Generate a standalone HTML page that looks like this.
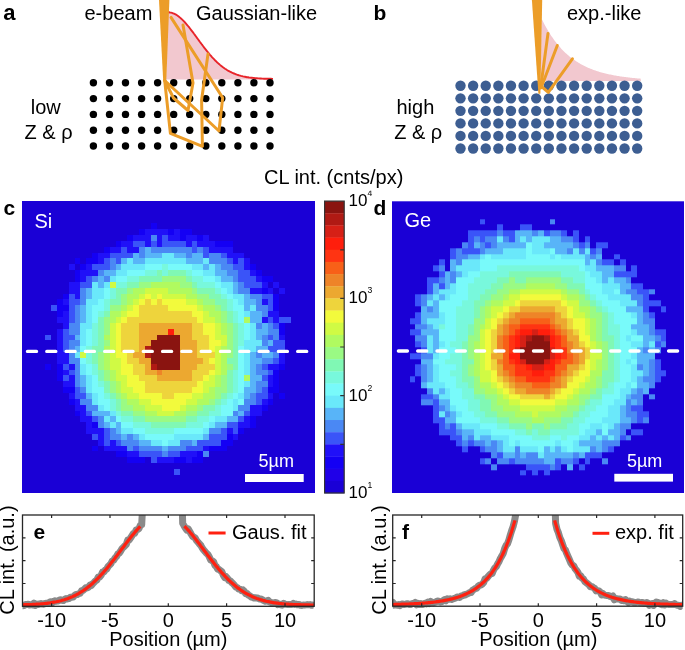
<!DOCTYPE html>
<html><head><meta charset="utf-8"><style>
html,body{margin:0;padding:0;background:#fff;}
svg{display:block;will-change:transform;}
</style></head><body>
<svg width="685" height="650" viewBox="0 0 685 650" font-family="'Liberation Sans', sans-serif" fill="#000">
<text x="3.3" y="20.1" font-size="22" font-weight="bold">a</text>
<text x="84.5" y="20" font-size="20">e-beam</text>
<text x="196" y="20" font-size="20">Gaussian-like</text>
<path d="M166 79.5 L168.0 12.3 L169.0 12.3 L170.0 12.5 L171.0 12.6 L172.0 12.9 L173.0 13.3 L174.0 13.7 L175.0 14.2 L176.0 14.7 L177.0 15.3 L178.0 16.0 L179.0 16.8 L180.0 17.6 L181.0 18.5 L182.0 19.4 L183.0 20.4 L184.0 21.4 L185.0 22.5 L186.0 23.6 L187.0 24.8 L188.0 26.0 L189.0 27.2 L190.0 28.5 L191.0 29.8 L192.0 31.1 L193.0 32.4 L194.0 33.8 L195.0 35.1 L196.0 36.5 L197.0 37.9 L198.0 39.2 L199.0 40.6 L200.0 42.0 L201.0 43.3 L202.0 44.7 L203.0 46.0 L204.0 47.3 L205.0 48.6 L206.0 49.9 L207.0 51.2 L208.0 52.4 L209.0 53.6 L210.0 54.8 L211.0 55.9 L212.0 57.1 L213.0 58.2 L214.0 59.2 L215.0 60.3 L216.0 61.2 L217.0 62.2 L218.0 63.1 L219.0 64.0 L220.0 64.9 L221.0 65.7 L222.0 66.5 L223.0 67.3 L224.0 68.0 L225.0 68.7 L226.0 69.3 L227.0 70.0 L228.0 70.6 L229.0 71.1 L230.0 71.7 L231.0 72.2 L232.0 72.7 L233.0 73.1 L234.0 73.5 L235.0 73.9 L236.0 74.3 L237.0 74.7 L238.0 75.0 L239.0 75.3 L240.0 75.6 L241.0 75.9 L242.0 76.1 L243.0 76.4 L244.0 76.6 L245.0 76.8 L246.0 77.0 L247.0 77.2 L248.0 77.3 L249.0 77.5 L250.0 77.6 L251.0 77.7 L252.0 77.8 L253.0 77.9 L254.0 78.0 L255.0 78.1 L256.0 78.2 L257.0 78.3 L258.0 78.4 L259.0 78.4 L260.0 78.5 L261.0 78.5 L262.0 78.6 L263.0 78.6 L264.0 78.7 L265.0 78.7 L266.0 78.7 L267.0 78.8 L268.0 78.8 L269.0 78.8 L270.0 78.8 L271.0 78.8 L272.0 78.9 L273.0 78.9 L273.5 79.5 Z" fill="#F2C8CF"/>
<path d="M168.0 12.3 L169.0 12.3 L170.0 12.5 L171.0 12.6 L172.0 12.9 L173.0 13.3 L174.0 13.7 L175.0 14.2 L176.0 14.7 L177.0 15.3 L178.0 16.0 L179.0 16.8 L180.0 17.6 L181.0 18.5 L182.0 19.4 L183.0 20.4 L184.0 21.4 L185.0 22.5 L186.0 23.6 L187.0 24.8 L188.0 26.0 L189.0 27.2 L190.0 28.5 L191.0 29.8 L192.0 31.1 L193.0 32.4 L194.0 33.8 L195.0 35.1 L196.0 36.5 L197.0 37.9 L198.0 39.2 L199.0 40.6 L200.0 42.0 L201.0 43.3 L202.0 44.7 L203.0 46.0 L204.0 47.3 L205.0 48.6 L206.0 49.9 L207.0 51.2 L208.0 52.4 L209.0 53.6 L210.0 54.8 L211.0 55.9 L212.0 57.1 L213.0 58.2 L214.0 59.2 L215.0 60.3 L216.0 61.2 L217.0 62.2 L218.0 63.1 L219.0 64.0 L220.0 64.9 L221.0 65.7 L222.0 66.5 L223.0 67.3 L224.0 68.0 L225.0 68.7 L226.0 69.3 L227.0 70.0 L228.0 70.6 L229.0 71.1 L230.0 71.7 L231.0 72.2 L232.0 72.7 L233.0 73.1 L234.0 73.5 L235.0 73.9 L236.0 74.3 L237.0 74.7 L238.0 75.0 L239.0 75.3 L240.0 75.6 L241.0 75.9 L242.0 76.1 L243.0 76.4 L244.0 76.6 L245.0 76.8 L246.0 77.0 L247.0 77.2 L248.0 77.3 L249.0 77.5 L250.0 77.6 L251.0 77.7 L252.0 77.8 L253.0 77.9 L254.0 78.0 L255.0 78.1 L256.0 78.2 L257.0 78.3 L258.0 78.4 L259.0 78.4 L260.0 78.5 L261.0 78.5 L262.0 78.6 L263.0 78.6 L264.0 78.7 L265.0 78.7 L266.0 78.7 L267.0 78.8 L268.0 78.8 L269.0 78.8 L270.0 78.8 L271.0 78.8 L272.0 78.9 L273.0 78.9" fill="none" stroke="#E8242A" stroke-width="1.9"/>
<circle cx="93.4" cy="82.8" r="3.7"/>
<circle cx="109.5" cy="82.8" r="3.7"/>
<circle cx="125.5" cy="82.8" r="3.7"/>
<circle cx="141.6" cy="82.8" r="3.7"/>
<circle cx="157.6" cy="82.8" r="3.7"/>
<circle cx="173.7" cy="82.8" r="3.7"/>
<circle cx="189.7" cy="82.8" r="3.7"/>
<circle cx="205.8" cy="82.8" r="3.7"/>
<circle cx="221.8" cy="82.8" r="3.7"/>
<circle cx="237.9" cy="82.8" r="3.7"/>
<circle cx="253.9" cy="82.8" r="3.7"/>
<circle cx="270.0" cy="82.8" r="3.7"/>
<circle cx="93.4" cy="98.6" r="3.7"/>
<circle cx="109.5" cy="98.6" r="3.7"/>
<circle cx="125.5" cy="98.6" r="3.7"/>
<circle cx="141.6" cy="98.6" r="3.7"/>
<circle cx="157.6" cy="98.6" r="3.7"/>
<circle cx="173.7" cy="98.6" r="3.7"/>
<circle cx="189.7" cy="98.6" r="3.7"/>
<circle cx="205.8" cy="98.6" r="3.7"/>
<circle cx="221.8" cy="98.6" r="3.7"/>
<circle cx="237.9" cy="98.6" r="3.7"/>
<circle cx="253.9" cy="98.6" r="3.7"/>
<circle cx="270.0" cy="98.6" r="3.7"/>
<circle cx="93.4" cy="114.4" r="3.7"/>
<circle cx="109.5" cy="114.4" r="3.7"/>
<circle cx="125.5" cy="114.4" r="3.7"/>
<circle cx="141.6" cy="114.4" r="3.7"/>
<circle cx="157.6" cy="114.4" r="3.7"/>
<circle cx="173.7" cy="114.4" r="3.7"/>
<circle cx="189.7" cy="114.4" r="3.7"/>
<circle cx="205.8" cy="114.4" r="3.7"/>
<circle cx="221.8" cy="114.4" r="3.7"/>
<circle cx="237.9" cy="114.4" r="3.7"/>
<circle cx="253.9" cy="114.4" r="3.7"/>
<circle cx="270.0" cy="114.4" r="3.7"/>
<circle cx="93.4" cy="130.2" r="3.7"/>
<circle cx="109.5" cy="130.2" r="3.7"/>
<circle cx="125.5" cy="130.2" r="3.7"/>
<circle cx="141.6" cy="130.2" r="3.7"/>
<circle cx="157.6" cy="130.2" r="3.7"/>
<circle cx="173.7" cy="130.2" r="3.7"/>
<circle cx="189.7" cy="130.2" r="3.7"/>
<circle cx="205.8" cy="130.2" r="3.7"/>
<circle cx="221.8" cy="130.2" r="3.7"/>
<circle cx="237.9" cy="130.2" r="3.7"/>
<circle cx="253.9" cy="130.2" r="3.7"/>
<circle cx="270.0" cy="130.2" r="3.7"/>
<circle cx="93.4" cy="146.0" r="3.7"/>
<circle cx="109.5" cy="146.0" r="3.7"/>
<circle cx="125.5" cy="146.0" r="3.7"/>
<circle cx="141.6" cy="146.0" r="3.7"/>
<circle cx="157.6" cy="146.0" r="3.7"/>
<circle cx="173.7" cy="146.0" r="3.7"/>
<circle cx="189.7" cy="146.0" r="3.7"/>
<circle cx="205.8" cy="146.0" r="3.7"/>
<circle cx="221.8" cy="146.0" r="3.7"/>
<circle cx="237.9" cy="146.0" r="3.7"/>
<circle cx="253.9" cy="146.0" r="3.7"/>
<circle cx="270.0" cy="146.0" r="3.7"/>
<path d="M164.7 80.5 L170.4 133.4 L202.4 146.3 L201.6 100 L208 54" fill="none" stroke="#EC9D28" stroke-width="3" stroke-linejoin="round" stroke-linecap="round"/>
<path d="M164.7 80.5 L173.5 98 L188 110.5 L193 83 L183 25" fill="none" stroke="#EC9D28" stroke-width="3" stroke-linejoin="round" stroke-linecap="round"/>
<path d="M164.7 80.5 L219 131 L222.7 97.7 L171 17.4" fill="none" stroke="#EC9D28" stroke-width="3" stroke-linejoin="round" stroke-linecap="round"/>
<path d="M159 0 L169.4 0 L166.3 80.8 L163.2 80.8 Z" fill="#EC9D28"/>
<text x="45.7" y="114" font-size="20" text-anchor="middle">low</text>
<text x="48.5" y="138.5" font-size="20" text-anchor="middle">Z &amp; ρ</text>
<text x="373.5" y="20.3" font-size="21" font-weight="bold">b</text>
<text x="567" y="19.8" font-size="20">exp.-like</text>
<path d="M540.5 80.9 L541.5 18.5 L542.5 20.5 L543.5 22.5 L544.5 24.4 L545.5 26.3 L546.5 28.1 L547.5 29.8 L548.5 31.5 L549.5 33.1 L550.5 34.7 L551.5 36.2 L552.5 37.6 L553.5 39.1 L554.5 40.4 L555.5 41.8 L556.5 43.0 L557.5 44.3 L558.5 45.5 L559.5 46.6 L560.5 47.8 L561.5 48.9 L562.5 49.9 L563.5 50.9 L564.5 51.9 L565.5 52.9 L566.5 53.8 L567.5 54.7 L568.5 55.5 L569.5 56.4 L570.5 57.2 L571.5 57.9 L572.5 58.7 L573.5 59.4 L574.5 60.1 L575.5 60.8 L576.5 61.5 L577.5 62.1 L578.5 62.7 L579.5 63.3 L580.5 63.9 L581.5 64.4 L582.5 65.0 L583.5 65.5 L584.5 66.0 L585.5 66.5 L586.5 67.0 L587.5 67.4 L588.5 67.9 L589.5 68.3 L590.5 68.7 L591.5 69.1 L592.5 69.5 L593.5 69.9 L594.5 70.2 L595.5 70.6 L596.5 70.9 L597.5 71.2 L598.5 71.6 L599.5 71.9 L600.5 72.2 L601.5 72.5 L602.5 72.7 L603.5 73.0 L604.5 73.3 L605.5 73.5 L606.5 73.7 L607.5 74.0 L608.5 74.2 L609.5 74.4 L610.5 74.6 L611.5 74.8 L612.5 75.0 L613.5 75.2 L614.5 75.4 L615.5 75.6 L616.5 75.8 L617.5 75.9 L618.5 76.1 L619.5 76.3 L620.5 76.4 L621.5 76.6 L622.5 76.7 L623.5 76.8 L624.5 77.0 L625.5 77.1 L626.5 77.2 L627.5 77.3 L628.5 77.5 L629.5 77.6 L630.5 77.7 L631.5 77.8 L632.5 77.9 L633.5 78.0 L634.5 78.1 L635.5 78.2 L636.5 78.3 L637.5 78.4 L638.5 78.4 L639.5 78.5 L640.5 78.6 L641 80.9 Z" fill="#F2C8CF"/>
<circle cx="460.50" cy="85.80" r="5.2" fill="#3D5E92"/>
<circle cx="473.12" cy="85.80" r="5.2" fill="#3D5E92"/>
<circle cx="485.74" cy="85.80" r="5.2" fill="#3D5E92"/>
<circle cx="498.36" cy="85.80" r="5.2" fill="#3D5E92"/>
<circle cx="510.98" cy="85.80" r="5.2" fill="#3D5E92"/>
<circle cx="523.60" cy="85.80" r="5.2" fill="#3D5E92"/>
<circle cx="536.22" cy="85.80" r="5.2" fill="#3D5E92"/>
<circle cx="548.84" cy="85.80" r="5.2" fill="#3D5E92"/>
<circle cx="561.46" cy="85.80" r="5.2" fill="#3D5E92"/>
<circle cx="574.08" cy="85.80" r="5.2" fill="#3D5E92"/>
<circle cx="586.70" cy="85.80" r="5.2" fill="#3D5E92"/>
<circle cx="599.32" cy="85.80" r="5.2" fill="#3D5E92"/>
<circle cx="611.94" cy="85.80" r="5.2" fill="#3D5E92"/>
<circle cx="624.56" cy="85.80" r="5.2" fill="#3D5E92"/>
<circle cx="637.18" cy="85.80" r="5.2" fill="#3D5E92"/>
<circle cx="460.50" cy="98.33" r="5.2" fill="#3D5E92"/>
<circle cx="473.12" cy="98.33" r="5.2" fill="#3D5E92"/>
<circle cx="485.74" cy="98.33" r="5.2" fill="#3D5E92"/>
<circle cx="498.36" cy="98.33" r="5.2" fill="#3D5E92"/>
<circle cx="510.98" cy="98.33" r="5.2" fill="#3D5E92"/>
<circle cx="523.60" cy="98.33" r="5.2" fill="#3D5E92"/>
<circle cx="536.22" cy="98.33" r="5.2" fill="#3D5E92"/>
<circle cx="548.84" cy="98.33" r="5.2" fill="#3D5E92"/>
<circle cx="561.46" cy="98.33" r="5.2" fill="#3D5E92"/>
<circle cx="574.08" cy="98.33" r="5.2" fill="#3D5E92"/>
<circle cx="586.70" cy="98.33" r="5.2" fill="#3D5E92"/>
<circle cx="599.32" cy="98.33" r="5.2" fill="#3D5E92"/>
<circle cx="611.94" cy="98.33" r="5.2" fill="#3D5E92"/>
<circle cx="624.56" cy="98.33" r="5.2" fill="#3D5E92"/>
<circle cx="637.18" cy="98.33" r="5.2" fill="#3D5E92"/>
<circle cx="460.50" cy="110.86" r="5.2" fill="#3D5E92"/>
<circle cx="473.12" cy="110.86" r="5.2" fill="#3D5E92"/>
<circle cx="485.74" cy="110.86" r="5.2" fill="#3D5E92"/>
<circle cx="498.36" cy="110.86" r="5.2" fill="#3D5E92"/>
<circle cx="510.98" cy="110.86" r="5.2" fill="#3D5E92"/>
<circle cx="523.60" cy="110.86" r="5.2" fill="#3D5E92"/>
<circle cx="536.22" cy="110.86" r="5.2" fill="#3D5E92"/>
<circle cx="548.84" cy="110.86" r="5.2" fill="#3D5E92"/>
<circle cx="561.46" cy="110.86" r="5.2" fill="#3D5E92"/>
<circle cx="574.08" cy="110.86" r="5.2" fill="#3D5E92"/>
<circle cx="586.70" cy="110.86" r="5.2" fill="#3D5E92"/>
<circle cx="599.32" cy="110.86" r="5.2" fill="#3D5E92"/>
<circle cx="611.94" cy="110.86" r="5.2" fill="#3D5E92"/>
<circle cx="624.56" cy="110.86" r="5.2" fill="#3D5E92"/>
<circle cx="637.18" cy="110.86" r="5.2" fill="#3D5E92"/>
<circle cx="460.50" cy="123.39" r="5.2" fill="#3D5E92"/>
<circle cx="473.12" cy="123.39" r="5.2" fill="#3D5E92"/>
<circle cx="485.74" cy="123.39" r="5.2" fill="#3D5E92"/>
<circle cx="498.36" cy="123.39" r="5.2" fill="#3D5E92"/>
<circle cx="510.98" cy="123.39" r="5.2" fill="#3D5E92"/>
<circle cx="523.60" cy="123.39" r="5.2" fill="#3D5E92"/>
<circle cx="536.22" cy="123.39" r="5.2" fill="#3D5E92"/>
<circle cx="548.84" cy="123.39" r="5.2" fill="#3D5E92"/>
<circle cx="561.46" cy="123.39" r="5.2" fill="#3D5E92"/>
<circle cx="574.08" cy="123.39" r="5.2" fill="#3D5E92"/>
<circle cx="586.70" cy="123.39" r="5.2" fill="#3D5E92"/>
<circle cx="599.32" cy="123.39" r="5.2" fill="#3D5E92"/>
<circle cx="611.94" cy="123.39" r="5.2" fill="#3D5E92"/>
<circle cx="624.56" cy="123.39" r="5.2" fill="#3D5E92"/>
<circle cx="637.18" cy="123.39" r="5.2" fill="#3D5E92"/>
<circle cx="460.50" cy="135.92" r="5.2" fill="#3D5E92"/>
<circle cx="473.12" cy="135.92" r="5.2" fill="#3D5E92"/>
<circle cx="485.74" cy="135.92" r="5.2" fill="#3D5E92"/>
<circle cx="498.36" cy="135.92" r="5.2" fill="#3D5E92"/>
<circle cx="510.98" cy="135.92" r="5.2" fill="#3D5E92"/>
<circle cx="523.60" cy="135.92" r="5.2" fill="#3D5E92"/>
<circle cx="536.22" cy="135.92" r="5.2" fill="#3D5E92"/>
<circle cx="548.84" cy="135.92" r="5.2" fill="#3D5E92"/>
<circle cx="561.46" cy="135.92" r="5.2" fill="#3D5E92"/>
<circle cx="574.08" cy="135.92" r="5.2" fill="#3D5E92"/>
<circle cx="586.70" cy="135.92" r="5.2" fill="#3D5E92"/>
<circle cx="599.32" cy="135.92" r="5.2" fill="#3D5E92"/>
<circle cx="611.94" cy="135.92" r="5.2" fill="#3D5E92"/>
<circle cx="624.56" cy="135.92" r="5.2" fill="#3D5E92"/>
<circle cx="637.18" cy="135.92" r="5.2" fill="#3D5E92"/>
<circle cx="460.50" cy="148.45" r="5.2" fill="#3D5E92"/>
<circle cx="473.12" cy="148.45" r="5.2" fill="#3D5E92"/>
<circle cx="485.74" cy="148.45" r="5.2" fill="#3D5E92"/>
<circle cx="498.36" cy="148.45" r="5.2" fill="#3D5E92"/>
<circle cx="510.98" cy="148.45" r="5.2" fill="#3D5E92"/>
<circle cx="523.60" cy="148.45" r="5.2" fill="#3D5E92"/>
<circle cx="536.22" cy="148.45" r="5.2" fill="#3D5E92"/>
<circle cx="548.84" cy="148.45" r="5.2" fill="#3D5E92"/>
<circle cx="561.46" cy="148.45" r="5.2" fill="#3D5E92"/>
<circle cx="574.08" cy="148.45" r="5.2" fill="#3D5E92"/>
<circle cx="586.70" cy="148.45" r="5.2" fill="#3D5E92"/>
<circle cx="599.32" cy="148.45" r="5.2" fill="#3D5E92"/>
<circle cx="611.94" cy="148.45" r="5.2" fill="#3D5E92"/>
<circle cx="624.56" cy="148.45" r="5.2" fill="#3D5E92"/>
<circle cx="637.18" cy="148.45" r="5.2" fill="#3D5E92"/>
<path d="M548 33.4 L540.6 88" fill="none" stroke="#EC9D28" stroke-width="3" stroke-linejoin="round" stroke-linecap="round"/>
<path d="M557.3 45.5 L541.2 87.5" fill="none" stroke="#EC9D28" stroke-width="3" stroke-linejoin="round" stroke-linecap="round"/>
<path d="M541.5 86.5 L548.3 92.3 L572.4 58.8" fill="none" stroke="#EC9D28" stroke-width="3" stroke-linejoin="round" stroke-linecap="round"/>
<path d="M531.9 0 L542.2 0 L540.4 93.8 L538.4 93.8 Z" fill="#EC9D28"/>
<text x="415.4" y="114" font-size="20" text-anchor="middle">high</text>
<text x="418.2" y="139" font-size="20" text-anchor="middle">Z &amp; ρ</text>
<text x="264" y="184" font-size="20">CL int. (cnts/px)</text>
<clipPath id="hc"><rect x="22" y="201.2" width="292.4" height="291.6"/></clipPath><g clip-path="url(#hc)"><svg x="22" y="200.0" width="292.4" height="292.4" viewBox="0 0 50 50" preserveAspectRatio="none" shape-rendering="crispEdges">
<rect width="50" height="50" fill="#1A00D6"/>
<path fill="#1400F4" d="M22 4h1v1h-1zM20 5h1v1h-1zM25 5h1v1h-1zM27 5h2v1h-2zM18 6h1v1h-1zM27 6h1v1h-1zM30 6h1v1h-1zM16 7h1v1h-1zM33 7h3v1h-3zM14 8h1v1h-1zM12 9h1v1h-1zM9 10h1v1h-1zM11 10h2v1h-2zM10 11h1v1h-1zM39 11h1v1h-1zM9 12h1v1h-1zM40 12h1v1h-1zM9 13h1v1h-1zM41 13h2v1h-2zM41 15h1v1h-1zM7 16h1v1h-1zM43 16h1v1h-1zM6 17h1v1h-1zM43 17h1v1h-1zM6 18h2v1h-2zM43 18h1v1h-1zM6 19h1v1h-1zM44 21h1v1h-1zM44 22h1v1h-1zM4 28h1v1h-1zM6 28h1v1h-1zM44 28h1v1h-1zM6 29h1v1h-1zM43 29h1v1h-1zM6 30h1v1h-1zM43 30h1v1h-1zM43 31h1v1h-1zM7 32h2v1h-2zM42 32h2v1h-2zM44 33h1v1h-1zM8 34h1v1h-1zM42 34h1v1h-1zM41 35h1v1h-1zM9 36h1v1h-1zM39 37h1v1h-1zM12 38h1v1h-1zM39 38h1v1h-1zM37 39h1v1h-1zM35 40h1v1h-1zM34 41h2v1h-2zM12 42h1v1h-1zM32 42h3v1h-3zM16 43h2v1h-2zM30 43h1v1h-1zM18 44h3v1h-3zM26 44h2v1h-2zM29 44h2v1h-2z"/>
<path fill="#2010F8" d="M21 5h4v1h-4zM26 5h1v1h-1zM19 6h3v1h-3zM23 6h1v1h-1zM25 6h2v1h-2zM28 6h2v1h-2zM31 6h1v1h-1zM17 7h2v1h-2zM21 7h1v1h-1zM23 7h1v1h-1zM28 7h1v1h-1zM30 7h3v1h-3zM15 8h2v1h-2zM18 8h2v1h-2zM32 8h4v1h-4zM13 9h2v1h-2zM35 9h3v1h-3zM13 10h1v1h-1zM36 10h1v1h-1zM38 10h1v1h-1zM8 11h1v1h-1zM11 11h1v1h-1zM38 11h1v1h-1zM10 12h3v1h-3zM39 12h1v1h-1zM10 13h1v1h-1zM40 13h1v1h-1zM8 14h2v1h-2zM41 14h1v1h-1zM43 14h1v1h-1zM8 15h2v1h-2zM39 15h2v1h-2zM42 15h1v1h-1zM44 15h1v1h-1zM9 16h1v1h-1zM7 17h1v1h-1zM41 17h1v1h-1zM7 19h1v1h-1zM42 19h2v1h-2zM6 20h2v1h-2zM41 20h1v1h-1zM43 20h1v1h-1zM7 21h1v1h-1zM6 22h1v1h-1zM6 23h1v1h-1zM44 23h1v1h-1zM6 24h1v1h-1zM6 25h1v1h-1zM6 26h2v1h-2zM44 26h1v1h-1zM6 27h2v1h-2zM44 27h1v1h-1zM8 28h1v1h-1zM42 28h2v1h-2zM7 29h1v1h-1zM8 30h1v1h-1zM42 30h1v1h-1zM7 31h2v1h-2zM42 31h1v1h-1zM8 33h1v1h-1zM42 33h1v1h-1zM9 34h1v1h-1zM41 34h1v1h-1zM9 35h2v1h-2zM39 35h2v1h-2zM10 36h1v1h-1zM39 36h2v1h-2zM10 37h2v1h-2zM38 37h1v1h-1zM11 38h1v1h-1zM37 38h2v1h-2zM11 39h3v1h-3zM35 39h1v1h-1zM13 40h1v1h-1zM36 40h1v1h-1zM13 41h1v1h-1zM15 41h1v1h-1zM14 42h4v1h-4zM31 42h1v1h-1zM18 43h2v1h-2zM27 43h3v1h-3zM23 44h3v1h-3zM28 44h1v1h-1z"/>
<path fill="#3A54F8" d="M24 6h1v1h-1zM19 7h2v1h-2zM22 7h1v1h-1zM24 7h4v1h-4zM29 7h1v1h-1zM17 8h1v1h-1zM29 8h1v1h-1zM31 8h1v1h-1zM15 9h4v1h-4zM31 9h1v1h-1zM34 9h1v1h-1zM14 10h1v1h-1zM16 10h1v1h-1zM35 10h1v1h-1zM37 10h1v1h-1zM12 11h3v1h-3zM36 11h2v1h-2zM37 12h2v1h-2zM11 13h1v1h-1zM37 13h3v1h-3zM10 14h2v1h-2zM38 14h3v1h-3zM8 16h1v1h-1zM41 16h2v1h-2zM8 17h2v1h-2zM42 17h1v1h-1zM5 18h1v1h-1zM8 18h1v1h-1zM42 18h1v1h-1zM8 19h1v1h-1zM8 20h1v1h-1zM42 20h1v1h-1zM44 20h2v1h-2zM43 21h1v1h-1zM7 22h1v1h-1zM4 23h1v1h-1zM7 23h2v1h-2zM42 23h1v1h-1zM7 24h1v1h-1zM43 24h2v1h-2zM7 25h1v1h-1zM42 25h3v1h-3zM43 27h1v1h-1zM7 28h1v1h-1zM41 28h1v1h-1zM8 29h1v1h-1zM42 29h1v1h-1zM7 30h1v1h-1zM41 30h1v1h-1zM9 32h1v1h-1zM41 32h1v1h-1zM9 33h2v1h-2zM40 33h2v1h-2zM40 34h1v1h-1zM11 36h1v1h-1zM38 36h1v1h-1zM12 37h1v1h-1zM37 37h1v1h-1zM35 38h2v1h-2zM14 39h1v1h-1zM34 39h1v1h-1zM36 39h1v1h-1zM12 40h1v1h-1zM14 40h1v1h-1zM32 40h3v1h-3zM14 41h1v1h-1zM16 41h1v1h-1zM30 41h4v1h-4zM19 42h1v1h-1zM28 42h3v1h-3zM20 43h4v1h-4zM25 43h2v1h-2zM22 44h1v1h-1zM26 46h1v1h-1z"/>
<path fill="#4A88F4" d="M22 6h1v1h-1zM20 8h1v1h-1zM22 8h7v1h-7zM30 8h1v1h-1zM20 9h1v1h-1zM28 9h1v1h-1zM32 9h2v1h-2zM15 10h1v1h-1zM32 10h3v1h-3zM15 11h1v1h-1zM34 11h2v1h-2zM13 12h1v1h-1zM35 12h2v1h-2zM12 13h1v1h-1zM14 13h1v1h-1zM36 13h1v1h-1zM37 14h1v1h-1zM10 15h1v1h-1zM37 15h2v1h-2zM10 16h1v1h-1zM39 16h2v1h-2zM10 17h1v1h-1zM40 17h1v1h-1zM9 18h1v1h-1zM40 18h2v1h-2zM9 19h1v1h-1zM41 19h1v1h-1zM9 20h1v1h-1zM8 21h2v1h-2zM40 21h1v1h-1zM42 21h1v1h-1zM8 22h2v1h-2zM42 22h2v1h-2zM41 23h1v1h-1zM43 23h1v1h-1zM8 24h2v1h-2zM41 24h1v1h-1zM8 25h1v1h-1zM8 26h1v1h-1zM40 26h1v1h-1zM43 26h1v1h-1zM8 27h2v1h-2zM41 27h2v1h-2zM9 28h1v1h-1zM40 28h1v1h-1zM9 29h1v1h-1zM40 29h2v1h-2zM9 30h1v1h-1zM9 31h1v1h-1zM40 31h2v1h-2zM10 32h1v1h-1zM40 32h1v1h-1zM39 33h1v1h-1zM10 34h2v1h-2zM38 34h2v1h-2zM11 35h2v1h-2zM37 35h2v1h-2zM36 36h1v1h-1zM13 37h1v1h-1zM13 38h1v1h-1zM15 39h1v1h-1zM32 39h2v1h-2zM15 40h2v1h-2zM18 40h1v1h-1zM17 41h3v1h-3zM27 41h2v1h-2zM18 42h1v1h-1zM20 42h4v1h-4zM25 42h3v1h-3zM24 43h1v1h-1zM31 43h1v1h-1z"/>
<path fill="#58B4F8" d="M21 8h1v1h-1zM19 9h1v1h-1zM21 9h3v1h-3zM26 9h2v1h-2zM29 9h2v1h-2zM17 10h1v1h-1zM19 10h2v1h-2zM28 10h3v1h-3zM16 11h1v1h-1zM31 11h1v1h-1zM33 11h1v1h-1zM14 12h2v1h-2zM33 12h2v1h-2zM13 13h1v1h-1zM34 13h2v1h-2zM13 14h1v1h-1zM36 14h1v1h-1zM11 15h1v1h-1zM36 15h1v1h-1zM11 16h1v1h-1zM38 16h1v1h-1zM38 17h2v1h-2zM10 18h1v1h-1zM38 18h1v1h-1zM10 19h1v1h-1zM39 19h2v1h-2zM10 20h1v1h-1zM39 20h2v1h-2zM41 21h1v1h-1zM40 22h2v1h-2zM9 23h1v1h-1zM40 23h1v1h-1zM42 24h1v1h-1zM9 25h1v1h-1zM40 25h2v1h-2zM39 26h1v1h-1zM41 26h2v1h-2zM39 27h2v1h-2zM39 28h1v1h-1zM39 29h1v1h-1zM10 30h1v1h-1zM39 30h2v1h-2zM10 31h1v1h-1zM39 31h1v1h-1zM38 32h2v1h-2zM11 33h1v1h-1zM38 33h1v1h-1zM12 36h3v1h-3zM37 36h1v1h-1zM15 37h1v1h-1zM35 37h2v1h-2zM14 38h1v1h-1zM16 38h1v1h-1zM33 38h2v1h-2zM16 39h1v1h-1zM17 40h1v1h-1zM19 40h1v1h-1zM31 40h1v1h-1zM20 41h2v1h-2zM29 41h1v1h-1zM24 42h1v1h-1z"/>
<path fill="#6AE8FA" d="M24 9h2v1h-2zM18 10h1v1h-1zM21 10h7v1h-7zM31 10h1v1h-1zM17 11h4v1h-4zM29 11h2v1h-2zM32 11h1v1h-1zM16 12h2v1h-2zM31 12h2v1h-2zM15 13h1v1h-1zM33 13h1v1h-1zM12 14h1v1h-1zM14 14h1v1h-1zM34 14h2v1h-2zM12 15h2v1h-2zM35 15h1v1h-1zM12 16h2v1h-2zM36 16h2v1h-2zM11 17h2v1h-2zM37 17h1v1h-1zM11 18h1v1h-1zM39 18h1v1h-1zM11 19h1v1h-1zM38 19h1v1h-1zM11 20h1v1h-1zM10 21h2v1h-2zM39 21h1v1h-1zM10 22h1v1h-1zM39 22h1v1h-1zM10 23h1v1h-1zM39 23h1v1h-1zM10 24h1v1h-1zM38 24h3v1h-3zM38 25h2v1h-2zM9 26h1v1h-1zM38 26h1v1h-1zM38 27h1v1h-1zM10 28h1v1h-1zM38 28h1v1h-1zM10 29h1v1h-1zM38 29h1v1h-1zM11 30h1v1h-1zM11 31h1v1h-1zM38 31h1v1h-1zM11 32h1v1h-1zM12 33h1v1h-1zM37 33h1v1h-1zM12 34h1v1h-1zM36 34h1v1h-1zM13 35h1v1h-1zM36 35h1v1h-1zM15 36h1v1h-1zM14 37h1v1h-1zM33 37h2v1h-2zM15 38h1v1h-1zM32 38h1v1h-1zM17 39h2v1h-2zM31 39h1v1h-1zM20 40h1v1h-1zM26 40h5v1h-5zM22 41h2v1h-2zM25 41h2v1h-2z"/>
<path fill="#78FAFA" d="M21 11h3v1h-3zM25 11h4v1h-4zM18 12h3v1h-3zM29 12h2v1h-2zM16 13h2v1h-2zM31 13h2v1h-2zM33 14h1v1h-1zM14 15h1v1h-1zM34 15h1v1h-1zM14 16h1v1h-1zM35 16h1v1h-1zM13 17h1v1h-1zM36 17h1v1h-1zM12 18h2v1h-2zM36 18h2v1h-2zM12 19h1v1h-1zM37 19h1v1h-1zM12 20h1v1h-1zM37 20h1v1h-1zM38 21h1v1h-1zM11 22h1v1h-1zM38 22h1v1h-1zM11 23h1v1h-1zM38 23h1v1h-1zM11 24h1v1h-1zM10 25h1v1h-1zM37 25h1v1h-1zM37 26h1v1h-1zM10 27h1v1h-1zM37 27h1v1h-1zM11 28h1v1h-1zM37 28h1v1h-1zM11 29h1v1h-1zM37 29h1v1h-1zM12 30h1v1h-1zM37 30h1v1h-1zM12 31h1v1h-1zM37 31h1v1h-1zM12 32h2v1h-2zM37 32h1v1h-1zM13 33h1v1h-1zM36 33h1v1h-1zM13 34h2v1h-2zM35 34h1v1h-1zM37 34h1v1h-1zM14 35h1v1h-1zM34 35h2v1h-2zM34 36h2v1h-2zM16 37h1v1h-1zM32 37h1v1h-1zM17 38h2v1h-2zM31 38h1v1h-1zM19 39h2v1h-2zM26 39h5v1h-5zM21 40h5v1h-5zM24 41h1v1h-1z"/>
<path fill="#78F8DC" d="M24 11h1v1h-1zM21 12h2v1h-2zM24 12h1v1h-1zM28 12h1v1h-1zM18 13h2v1h-2zM29 13h2v1h-2zM16 14h2v1h-2zM30 14h3v1h-3zM15 15h1v1h-1zM33 15h1v1h-1zM15 16h1v1h-1zM34 16h1v1h-1zM14 17h1v1h-1zM35 17h1v1h-1zM14 18h1v1h-1zM35 18h1v1h-1zM13 19h1v1h-1zM36 19h1v1h-1zM36 20h1v1h-1zM12 21h1v1h-1zM37 21h1v1h-1zM12 22h1v1h-1zM37 22h1v1h-1zM12 23h1v1h-1zM37 23h1v1h-1zM12 24h1v1h-1zM37 24h1v1h-1zM11 25h1v1h-1zM11 26h1v1h-1zM11 27h1v1h-1zM12 28h1v1h-1zM12 29h1v1h-1zM36 29h1v1h-1zM36 30h1v1h-1zM13 31h1v1h-1zM36 31h1v1h-1zM36 32h1v1h-1zM14 33h1v1h-1zM35 33h1v1h-1zM15 34h1v1h-1zM34 34h1v1h-1zM15 35h1v1h-1zM33 35h1v1h-1zM16 36h1v1h-1zM32 36h2v1h-2zM17 37h2v1h-2zM30 37h2v1h-2zM19 38h3v1h-3zM28 38h3v1h-3zM21 39h5v1h-5z"/>
<path fill="#80F8B4" d="M23 12h1v1h-1zM25 12h3v1h-3zM20 13h4v1h-4zM28 13h1v1h-1zM18 14h2v1h-2zM29 14h1v1h-1zM16 15h2v1h-2zM30 15h3v1h-3zM16 16h1v1h-1zM32 16h2v1h-2zM15 17h2v1h-2zM33 17h2v1h-2zM34 18h1v1h-1zM14 19h1v1h-1zM35 19h1v1h-1zM13 20h1v1h-1zM35 20h1v1h-1zM13 21h1v1h-1zM36 21h1v1h-1zM13 22h1v1h-1zM36 22h1v1h-1zM13 23h1v1h-1zM36 23h1v1h-1zM13 24h1v1h-1zM36 24h1v1h-1zM12 25h2v1h-2zM36 25h1v1h-1zM12 26h1v1h-1zM36 26h1v1h-1zM12 27h1v1h-1zM35 27h2v1h-2zM36 28h1v1h-1zM13 29h1v1h-1zM35 29h1v1h-1zM13 30h1v1h-1zM35 30h1v1h-1zM14 31h1v1h-1zM35 31h1v1h-1zM14 32h1v1h-1zM35 32h1v1h-1zM15 33h1v1h-1zM34 33h1v1h-1zM16 34h1v1h-1zM33 34h1v1h-1zM16 35h1v1h-1zM31 35h2v1h-2zM17 36h2v1h-2zM30 36h2v1h-2zM19 37h2v1h-2zM28 37h2v1h-2zM22 38h6v1h-6z"/>
<path fill="#9AFA84" d="M24 13h4v1h-4zM20 14h2v1h-2zM27 14h2v1h-2zM18 15h1v1h-1zM29 15h1v1h-1zM17 16h1v1h-1zM30 16h2v1h-2zM17 17h1v1h-1zM31 17h2v1h-2zM15 18h2v1h-2zM33 18h1v1h-1zM34 19h1v1h-1zM14 20h1v1h-1zM34 20h1v1h-1zM14 21h1v1h-1zM35 21h1v1h-1zM14 22h1v1h-1zM35 22h1v1h-1zM35 23h1v1h-1zM14 24h1v1h-1zM35 24h1v1h-1zM35 25h1v1h-1zM13 26h1v1h-1zM35 26h1v1h-1zM13 27h1v1h-1zM13 28h1v1h-1zM35 28h1v1h-1zM14 29h1v1h-1zM14 30h1v1h-1zM34 30h1v1h-1zM15 31h1v1h-1zM34 31h1v1h-1zM15 32h1v1h-1zM33 32h2v1h-2zM16 33h1v1h-1zM33 33h1v1h-1zM17 34h1v1h-1zM32 34h1v1h-1zM17 35h2v1h-2zM30 35h1v1h-1zM19 36h2v1h-2zM28 36h2v1h-2zM21 37h7v1h-7z"/>
<path fill="#B0FA60" d="M22 14h5v1h-5zM19 15h2v1h-2zM25 15h4v1h-4zM18 16h2v1h-2zM28 16h2v1h-2zM18 17h1v1h-1zM30 17h1v1h-1zM17 18h1v1h-1zM31 18h2v1h-2zM15 19h2v1h-2zM32 19h2v1h-2zM15 20h1v1h-1zM33 20h1v1h-1zM38 20h1v1h-1zM34 21h1v1h-1zM34 22h1v1h-1zM14 23h1v1h-1zM14 25h1v1h-1zM34 25h1v1h-1zM14 26h1v1h-1zM34 26h1v1h-1zM14 27h1v1h-1zM34 27h1v1h-1zM14 28h1v1h-1zM34 28h1v1h-1zM15 29h1v1h-1zM34 29h1v1h-1zM15 30h1v1h-1zM33 30h1v1h-1zM38 30h1v1h-1zM16 31h1v1h-1zM33 31h1v1h-1zM16 32h1v1h-1zM32 32h1v1h-1zM17 33h1v1h-1zM31 33h2v1h-2zM18 34h2v1h-2zM30 34h2v1h-2zM19 35h2v1h-2zM28 35h2v1h-2zM21 36h2v1h-2zM26 36h2v1h-2z"/>
<path fill="#D0FA44" d="M15 14h1v1h-1zM21 15h4v1h-4zM20 16h1v1h-1zM22 16h1v1h-1zM24 16h4v1h-4zM19 17h1v1h-1zM28 17h2v1h-2zM18 18h1v1h-1zM30 18h1v1h-1zM17 19h1v1h-1zM31 19h1v1h-1zM16 20h1v1h-1zM31 20h2v1h-2zM15 21h1v1h-1zM33 21h1v1h-1zM15 22h1v1h-1zM33 22h1v1h-1zM15 23h1v1h-1zM33 23h2v1h-2zM15 24h1v1h-1zM34 24h1v1h-1zM15 25h1v1h-1zM33 25h1v1h-1zM10 26h1v1h-1zM15 26h1v1h-1zM33 26h1v1h-1zM15 27h2v1h-2zM33 27h1v1h-1zM15 28h2v1h-2zM33 28h1v1h-1zM16 29h1v1h-1zM33 29h1v1h-1zM16 30h2v1h-2zM32 30h1v1h-1zM17 31h1v1h-1zM31 31h2v1h-2zM17 32h2v1h-2zM31 32h1v1h-1zM18 33h2v1h-2zM29 33h2v1h-2zM20 34h2v1h-2zM28 34h2v1h-2zM21 35h3v1h-3zM27 35h1v1h-1zM23 36h3v1h-3z"/>
<path fill="#F2FA3C" d="M21 16h1v1h-1zM23 16h1v1h-1zM20 17h1v1h-1zM22 17h1v1h-1zM24 17h4v1h-4zM19 18h1v1h-1zM25 18h5v1h-5zM18 19h2v1h-2zM29 19h2v1h-2zM17 20h1v1h-1zM30 20h1v1h-1zM16 21h1v1h-1zM31 21h2v1h-2zM16 22h1v1h-1zM31 22h2v1h-2zM16 23h1v1h-1zM32 23h1v1h-1zM16 24h1v1h-1zM32 24h2v1h-2zM16 25h1v1h-1zM32 25h1v1h-1zM16 26h2v1h-2zM17 27h1v1h-1zM32 27h1v1h-1zM17 28h2v1h-2zM17 29h2v1h-2zM32 29h1v1h-1zM18 30h2v1h-2zM31 30h1v1h-1zM18 31h3v1h-3zM30 31h1v1h-1zM19 32h2v1h-2zM29 32h2v1h-2zM20 33h4v1h-4zM26 33h3v1h-3zM22 34h6v1h-6zM24 35h3v1h-3z"/>
<path fill="#EED43C" d="M21 17h1v1h-1zM23 17h1v1h-1zM20 18h5v1h-5zM20 19h9v1h-9zM18 20h12v1h-12zM17 21h3v1h-3zM29 21h2v1h-2zM17 22h3v1h-3zM29 22h2v1h-2zM17 23h3v1h-3zM29 23h3v1h-3zM17 24h3v1h-3zM30 24h2v1h-2zM17 25h3v1h-3zM30 25h2v1h-2zM18 26h1v1h-1zM30 26h3v1h-3zM18 27h2v1h-2zM31 27h1v1h-1zM19 28h2v1h-2zM30 28h3v1h-3zM19 29h2v1h-2zM29 29h3v1h-3zM20 30h3v1h-3zM29 30h2v1h-2zM21 31h9v1h-9zM21 32h8v1h-8zM24 33h2v1h-2z"/>
<path fill="#ECA830" d="M20 21h9v1h-9zM20 22h5v1h-5zM26 22h3v1h-3zM20 23h3v1h-3zM27 23h2v1h-2zM20 24h2v1h-2zM27 24h3v1h-3zM20 25h1v1h-1zM27 25h3v1h-3zM19 26h2v1h-2zM27 26h3v1h-3zM20 27h2v1h-2zM27 27h4v1h-4zM21 28h1v1h-1zM27 28h3v1h-3zM21 29h2v1h-2zM24 29h5v1h-5zM23 30h6v1h-6z"/>
<path fill="#EE8428" d="M23 29h1v1h-1z"/>
<path fill="#FF1E0C" d="M25 22h1v1h-1z"/>
<path fill="#B01A14" d="M21 25h1v1h-1zM21 26h1v1h-1zM22 28h1v1h-1z"/>
<path fill="#8A1410" d="M23 23h4v1h-4zM22 24h5v1h-5zM22 25h5v1h-5zM22 26h5v1h-5zM22 27h5v1h-5zM23 28h4v1h-4z"/>
</svg></g>
<clipPath id="hd"><rect x="392" y="201.3" width="291.9" height="291.4"/></clipPath><g clip-path="url(#hd)"><svg x="392" y="201.3" width="291.9" height="291.9" viewBox="0 0 50 50" preserveAspectRatio="none" shape-rendering="crispEdges">
<rect width="50" height="50" fill="#1A00D6"/>
<path fill="#3A54F8" d="M15 3h1v1h-1zM18 4h1v1h-1zM22 4h2v1h-2zM13 5h5v1h-5zM19 5h2v1h-2zM26 5h1v1h-1zM29 5h1v1h-1zM31 5h1v1h-1zM13 6h1v1h-1zM15 6h1v1h-1zM20 6h1v1h-1zM31 6h1v1h-1zM33 6h1v1h-1zM13 7h1v1h-1zM16 7h1v1h-1zM32 7h1v1h-1zM35 7h2v1h-2zM10 8h1v1h-1zM12 8h3v1h-3zM34 8h1v1h-1zM10 9h1v1h-1zM38 9h1v1h-1zM8 10h1v1h-1zM36 10h2v1h-2zM39 10h1v1h-1zM7 11h1v1h-1zM41 11h1v1h-1zM8 12h1v1h-1zM38 12h4v1h-4zM6 13h2v1h-2zM6 14h1v1h-1zM8 14h1v1h-1zM41 14h2v1h-2zM6 15h1v1h-1zM42 15h2v1h-2zM4 16h1v1h-1zM43 16h1v1h-1zM4 17h1v1h-1zM43 17h3v1h-3zM43 18h1v1h-1zM46 18h1v1h-1zM4 19h1v1h-1zM44 19h1v1h-1zM3 20h2v1h-2zM3 22h2v1h-2zM45 22h2v1h-2zM46 23h1v1h-1zM4 24h1v1h-1zM45 24h1v1h-1zM5 25h1v1h-1zM3 26h2v1h-2zM45 27h1v1h-1zM4 28h1v1h-1zM45 28h1v1h-1zM4 29h1v1h-1zM45 29h2v1h-2zM3 30h1v1h-1zM45 30h1v1h-1zM5 33h2v1h-2zM7 34h1v1h-1zM7 35h1v1h-1zM41 35h2v1h-2zM7 36h1v1h-1zM42 36h2v1h-2zM7 37h2v1h-2zM42 37h1v1h-1zM8 38h1v1h-1zM10 38h1v1h-1zM8 39h3v1h-3zM41 39h2v1h-2zM10 40h2v1h-2zM39 40h1v1h-1zM11 41h1v1h-1zM13 41h1v1h-1zM12 42h1v1h-1zM15 42h1v1h-1zM37 42h1v1h-1zM18 43h1v1h-1zM33 43h3v1h-3zM15 44h1v1h-1zM20 44h1v1h-1zM28 44h1v1h-1zM31 44h1v1h-1zM33 44h1v1h-1zM23 45h4v1h-4zM28 45h1v1h-1zM32 45h1v1h-1zM22 46h1v1h-1zM24 46h1v1h-1zM26 46h1v1h-1z"/>
<path fill="#4A88F4" d="M27 3h1v1h-1zM18 5h1v1h-1zM24 5h1v1h-1zM27 5h2v1h-2zM14 6h1v1h-1zM16 6h2v1h-2zM19 6h1v1h-1zM29 6h2v1h-2zM12 7h1v1h-1zM15 7h1v1h-1zM17 7h1v1h-1zM31 7h1v1h-1zM33 7h1v1h-1zM11 8h1v1h-1zM15 8h1v1h-1zM30 8h1v1h-1zM32 8h1v1h-1zM35 8h1v1h-1zM11 9h2v1h-2zM34 9h1v1h-1zM11 10h1v1h-1zM35 10h1v1h-1zM8 11h1v1h-1zM38 11h2v1h-2zM10 12h1v1h-1zM8 13h1v1h-1zM10 13h1v1h-1zM40 13h1v1h-1zM40 15h2v1h-2zM44 15h1v1h-1zM5 16h1v1h-1zM41 16h2v1h-2zM5 17h1v1h-1zM42 17h1v1h-1zM6 18h1v1h-1zM43 19h1v1h-1zM43 20h2v1h-2zM4 21h2v1h-2zM44 21h1v1h-1zM44 22h1v1h-1zM4 23h2v1h-2zM45 23h1v1h-1zM5 24h1v1h-1zM46 24h1v1h-1zM43 25h1v1h-1zM45 25h1v1h-1zM5 26h2v1h-2zM44 27h1v1h-1zM5 28h1v1h-1zM42 28h1v1h-1zM44 28h1v1h-1zM5 29h1v1h-1zM44 29h1v1h-1zM5 30h1v1h-1zM43 30h2v1h-2zM44 31h1v1h-1zM6 32h1v1h-1zM42 32h1v1h-1zM7 33h1v1h-1zM41 33h2v1h-2zM44 33h1v1h-1zM5 34h2v1h-2zM40 34h1v1h-1zM42 34h1v1h-1zM8 35h1v1h-1zM40 35h1v1h-1zM9 36h1v1h-1zM40 36h2v1h-2zM41 37h1v1h-1zM43 37h1v1h-1zM9 38h1v1h-1zM39 38h2v1h-2zM11 39h1v1h-1zM39 39h1v1h-1zM13 40h1v1h-1zM40 40h1v1h-1zM12 41h1v1h-1zM14 41h2v1h-2zM17 41h1v1h-1zM36 41h3v1h-3zM16 42h2v1h-2zM21 42h1v1h-1zM34 42h1v1h-1zM36 42h1v1h-1zM17 43h1v1h-1zM21 43h1v1h-1zM23 43h2v1h-2zM31 43h1v1h-1zM16 44h1v1h-1zM18 44h2v1h-2zM21 44h5v1h-5zM29 44h2v1h-2zM36 44h1v1h-1zM17 45h1v1h-1zM27 45h1v1h-1z"/>
<path fill="#58B4F8" d="M21 5h3v1h-3zM25 5h1v1h-1zM21 6h1v1h-1zM23 6h1v1h-1zM27 6h2v1h-2zM14 7h1v1h-1zM18 7h5v1h-5zM26 7h5v1h-5zM16 8h3v1h-3zM28 8h2v1h-2zM13 9h2v1h-2zM33 9h1v1h-1zM35 9h1v1h-1zM10 10h1v1h-1zM33 10h1v1h-1zM10 11h1v1h-1zM35 11h3v1h-3zM9 12h1v1h-1zM11 12h1v1h-1zM36 12h2v1h-2zM9 13h1v1h-1zM36 13h1v1h-1zM38 13h2v1h-2zM7 14h1v1h-1zM9 14h1v1h-1zM39 14h2v1h-2zM7 15h1v1h-1zM39 15h1v1h-1zM6 16h1v1h-1zM8 16h1v1h-1zM7 17h1v1h-1zM5 18h1v1h-1zM7 18h1v1h-1zM40 18h3v1h-3zM5 19h3v1h-3zM42 19h1v1h-1zM5 20h1v1h-1zM42 20h1v1h-1zM6 21h1v1h-1zM41 21h3v1h-3zM5 22h3v1h-3zM42 22h2v1h-2zM7 23h1v1h-1zM43 23h2v1h-2zM7 24h1v1h-1zM43 24h1v1h-1zM7 25h1v1h-1zM42 25h1v1h-1zM44 25h1v1h-1zM42 26h3v1h-3zM5 27h2v1h-2zM42 27h2v1h-2zM6 28h1v1h-1zM43 28h1v1h-1zM6 29h1v1h-1zM43 29h1v1h-1zM6 30h1v1h-1zM42 30h1v1h-1zM5 31h1v1h-1zM42 31h2v1h-2zM8 32h1v1h-1zM41 32h1v1h-1zM43 32h1v1h-1zM40 33h1v1h-1zM8 34h2v1h-2zM41 34h1v1h-1zM9 35h1v1h-1zM39 35h1v1h-1zM10 36h1v1h-1zM39 36h1v1h-1zM9 37h2v1h-2zM39 37h2v1h-2zM11 38h1v1h-1zM38 38h1v1h-1zM12 39h2v1h-2zM35 39h1v1h-1zM37 39h2v1h-2zM12 40h1v1h-1zM15 40h2v1h-2zM34 40h1v1h-1zM36 40h1v1h-1zM38 40h1v1h-1zM16 41h1v1h-1zM18 41h1v1h-1zM32 41h4v1h-4zM18 42h1v1h-1zM26 42h1v1h-1zM28 42h1v1h-1zM35 42h1v1h-1zM19 43h2v1h-2zM22 43h1v1h-1zM26 43h5v1h-5zM32 43h1v1h-1zM26 44h2v1h-2zM30 45h1v1h-1z"/>
<path fill="#6AE8FA" d="M18 6h1v1h-1zM22 6h1v1h-1zM24 6h3v1h-3zM24 7h2v1h-2zM19 8h4v1h-4zM24 8h3v1h-3zM31 8h1v1h-1zM33 8h1v1h-1zM15 9h1v1h-1zM17 9h6v1h-6zM27 9h1v1h-1zM29 9h4v1h-4zM12 10h3v1h-3zM34 10h1v1h-1zM11 11h4v1h-4zM33 11h2v1h-2zM12 12h1v1h-1zM34 12h2v1h-2zM35 13h1v1h-1zM37 13h1v1h-1zM10 14h1v1h-1zM36 14h3v1h-3zM8 15h3v1h-3zM36 15h2v1h-2zM7 16h1v1h-1zM9 16h1v1h-1zM37 16h4v1h-4zM6 17h1v1h-1zM39 17h3v1h-3zM8 19h1v1h-1zM41 19h1v1h-1zM6 20h3v1h-3zM7 21h1v1h-1zM41 22h1v1h-1zM6 23h1v1h-1zM40 23h1v1h-1zM6 24h1v1h-1zM8 24h1v1h-1zM41 24h2v1h-2zM44 24h1v1h-1zM6 25h1v1h-1zM7 26h1v1h-1zM41 26h1v1h-1zM40 27h1v1h-1zM7 28h1v1h-1zM41 28h1v1h-1zM7 29h1v1h-1zM41 29h2v1h-2zM7 30h1v1h-1zM41 30h1v1h-1zM6 31h3v1h-3zM40 31h1v1h-1zM7 32h1v1h-1zM9 32h1v1h-1zM39 32h2v1h-2zM8 33h2v1h-2zM39 33h1v1h-1zM38 34h2v1h-2zM10 35h1v1h-1zM37 35h2v1h-2zM8 36h1v1h-1zM11 36h1v1h-1zM37 36h2v1h-2zM36 37h3v1h-3zM12 38h3v1h-3zM34 38h2v1h-2zM37 38h1v1h-1zM14 39h3v1h-3zM33 39h2v1h-2zM14 40h1v1h-1zM17 40h3v1h-3zM32 40h2v1h-2zM35 40h1v1h-1zM37 40h1v1h-1zM19 41h1v1h-1zM21 41h1v1h-1zM28 41h1v1h-1zM31 41h1v1h-1zM19 42h2v1h-2zM22 42h3v1h-3zM27 42h1v1h-1zM29 42h1v1h-1zM31 42h3v1h-3zM25 43h1v1h-1z"/>
<path fill="#78FAFA" d="M23 7h1v1h-1zM23 8h1v1h-1zM27 8h1v1h-1zM16 9h1v1h-1zM23 9h4v1h-4zM28 9h1v1h-1zM15 10h18v1h-18zM15 11h3v1h-3zM32 11h1v1h-1zM13 12h2v1h-2zM33 12h1v1h-1zM11 13h3v1h-3zM33 13h2v1h-2zM11 14h2v1h-2zM33 14h3v1h-3zM11 15h2v1h-2zM34 15h2v1h-2zM38 15h1v1h-1zM10 16h3v1h-3zM35 16h2v1h-2zM8 17h4v1h-4zM36 17h3v1h-3zM8 18h3v1h-3zM37 18h3v1h-3zM9 19h2v1h-2zM38 19h3v1h-3zM9 20h2v1h-2zM38 20h4v1h-4zM9 21h2v1h-2zM39 21h2v1h-2zM8 22h3v1h-3zM39 22h2v1h-2zM8 23h3v1h-3zM39 23h1v1h-1zM41 23h2v1h-2zM9 24h1v1h-1zM39 24h2v1h-2zM8 25h3v1h-3zM39 25h3v1h-3zM8 26h2v1h-2zM39 26h2v1h-2zM7 27h2v1h-2zM39 27h1v1h-1zM41 27h1v1h-1zM8 28h3v1h-3zM39 28h2v1h-2zM8 29h2v1h-2zM39 29h2v1h-2zM8 30h3v1h-3zM39 30h2v1h-2zM9 31h2v1h-2zM38 31h2v1h-2zM41 31h1v1h-1zM10 32h2v1h-2zM38 32h1v1h-1zM10 33h2v1h-2zM36 33h3v1h-3zM10 34h3v1h-3zM36 34h2v1h-2zM11 35h2v1h-2zM35 35h2v1h-2zM12 36h2v1h-2zM34 36h3v1h-3zM11 37h4v1h-4zM33 37h3v1h-3zM15 38h3v1h-3zM32 38h2v1h-2zM36 38h1v1h-1zM17 39h4v1h-4zM32 39h1v1h-1zM36 39h1v1h-1zM20 40h4v1h-4zM27 40h2v1h-2zM30 40h2v1h-2zM20 41h1v1h-1zM22 41h6v1h-6zM29 41h2v1h-2zM25 42h1v1h-1zM30 42h1v1h-1z"/>
<path fill="#78F8DC" d="M18 11h14v1h-14zM15 12h5v1h-5zM29 12h4v1h-4zM14 13h4v1h-4zM31 13h2v1h-2zM13 14h4v1h-4zM13 15h3v1h-3zM33 15h1v1h-1zM13 16h2v1h-2zM34 16h1v1h-1zM12 17h2v1h-2zM35 17h1v1h-1zM11 18h3v1h-3zM36 18h1v1h-1zM11 19h3v1h-3zM37 19h1v1h-1zM11 20h3v1h-3zM37 20h1v1h-1zM8 21h1v1h-1zM11 21h2v1h-2zM37 21h2v1h-2zM11 22h2v1h-2zM37 22h2v1h-2zM11 23h2v1h-2zM38 23h1v1h-1zM10 24h2v1h-2zM38 24h1v1h-1zM11 25h1v1h-1zM38 25h1v1h-1zM10 26h2v1h-2zM38 26h1v1h-1zM9 27h3v1h-3zM38 27h1v1h-1zM11 28h1v1h-1zM38 28h1v1h-1zM10 29h2v1h-2zM38 29h1v1h-1zM11 30h1v1h-1zM38 30h1v1h-1zM11 31h2v1h-2zM37 31h1v1h-1zM12 32h2v1h-2zM36 32h2v1h-2zM12 33h2v1h-2zM13 34h2v1h-2zM34 34h2v1h-2zM13 35h2v1h-2zM33 35h2v1h-2zM14 36h2v1h-2zM32 36h2v1h-2zM15 37h3v1h-3zM31 37h2v1h-2zM18 38h2v1h-2zM30 38h2v1h-2zM21 39h2v1h-2zM24 39h1v1h-1zM27 39h5v1h-5zM24 40h3v1h-3zM29 40h1v1h-1z"/>
<path fill="#80F8B4" d="M20 12h9v1h-9zM18 13h2v1h-2zM21 13h2v1h-2zM29 13h2v1h-2zM17 14h2v1h-2zM30 14h3v1h-3zM16 15h2v1h-2zM32 15h1v1h-1zM15 16h2v1h-2zM33 16h1v1h-1zM14 17h2v1h-2zM34 17h1v1h-1zM14 18h1v1h-1zM35 18h1v1h-1zM14 19h1v1h-1zM36 19h1v1h-1zM36 20h1v1h-1zM13 21h1v1h-1zM36 21h1v1h-1zM13 22h1v1h-1zM36 22h1v1h-1zM36 23h2v1h-2zM12 24h1v1h-1zM37 24h1v1h-1zM12 25h1v1h-1zM37 25h1v1h-1zM12 26h1v1h-1zM37 26h1v1h-1zM12 27h2v1h-2zM37 27h1v1h-1zM12 28h1v1h-1zM37 28h1v1h-1zM12 29h1v1h-1zM36 29h2v1h-2zM12 30h2v1h-2zM36 30h2v1h-2zM13 31h1v1h-1zM36 31h1v1h-1zM35 32h1v1h-1zM14 33h2v1h-2zM34 33h2v1h-2zM15 34h2v1h-2zM33 34h1v1h-1zM15 35h2v1h-2zM32 35h1v1h-1zM16 36h2v1h-2zM31 36h1v1h-1zM18 37h2v1h-2zM29 37h2v1h-2zM20 38h3v1h-3zM24 38h2v1h-2zM27 38h3v1h-3zM23 39h1v1h-1zM25 39h2v1h-2z"/>
<path fill="#9AFA84" d="M20 13h1v1h-1zM23 13h6v1h-6zM19 14h4v1h-4zM28 14h2v1h-2zM18 15h2v1h-2zM30 15h2v1h-2zM17 16h2v1h-2zM32 16h1v1h-1zM16 17h1v1h-1zM32 17h2v1h-2zM15 18h1v1h-1zM34 18h1v1h-1zM15 19h1v1h-1zM34 19h2v1h-2zM14 20h2v1h-2zM35 20h1v1h-1zM14 21h1v1h-1zM35 21h1v1h-1zM14 22h1v1h-1zM35 22h1v1h-1zM13 23h2v1h-2zM35 23h1v1h-1zM13 24h1v1h-1zM36 24h1v1h-1zM13 25h1v1h-1zM36 25h1v1h-1zM13 26h1v1h-1zM36 26h1v1h-1zM36 27h1v1h-1zM13 28h1v1h-1zM36 28h1v1h-1zM13 29h1v1h-1zM14 30h1v1h-1zM35 30h1v1h-1zM14 31h1v1h-1zM35 31h1v1h-1zM14 32h2v1h-2zM34 32h1v1h-1zM16 33h2v1h-2zM32 33h2v1h-2zM17 34h1v1h-1zM32 34h1v1h-1zM17 35h2v1h-2zM30 35h2v1h-2zM18 36h3v1h-3zM29 36h2v1h-2zM20 37h4v1h-4zM26 37h3v1h-3zM23 38h1v1h-1zM26 38h1v1h-1z"/>
<path fill="#B0FA60" d="M23 14h5v1h-5zM20 15h2v1h-2zM29 15h1v1h-1zM19 16h1v1h-1zM30 16h2v1h-2zM17 17h2v1h-2zM16 18h1v1h-1zM32 18h2v1h-2zM16 19h1v1h-1zM33 19h1v1h-1zM34 20h1v1h-1zM15 21h1v1h-1zM34 21h1v1h-1zM34 22h1v1h-1zM34 23h1v1h-1zM14 24h1v1h-1zM35 24h1v1h-1zM14 25h1v1h-1zM35 25h1v1h-1zM14 26h1v1h-1zM14 27h1v1h-1zM35 27h1v1h-1zM14 28h1v1h-1zM35 28h1v1h-1zM14 29h1v1h-1zM34 29h2v1h-2zM34 30h1v1h-1zM15 31h2v1h-2zM33 31h2v1h-2zM16 32h2v1h-2zM32 32h2v1h-2zM18 33h1v1h-1zM31 33h1v1h-1zM18 34h2v1h-2zM30 34h2v1h-2zM19 35h3v1h-3zM28 35h2v1h-2zM21 36h3v1h-3zM25 36h4v1h-4zM24 37h2v1h-2z"/>
<path fill="#D0FA44" d="M22 15h7v1h-7zM20 16h2v1h-2zM29 16h1v1h-1zM19 17h2v1h-2zM30 17h2v1h-2zM17 18h2v1h-2zM31 18h1v1h-1zM17 19h1v1h-1zM31 19h2v1h-2zM16 20h1v1h-1zM33 20h1v1h-1zM16 21h1v1h-1zM33 21h1v1h-1zM15 22h1v1h-1zM33 22h1v1h-1zM15 23h1v1h-1zM15 24h1v1h-1zM34 24h1v1h-1zM15 25h1v1h-1zM34 25h1v1h-1zM15 26h1v1h-1zM34 26h2v1h-2zM15 27h1v1h-1zM34 27h1v1h-1zM15 28h1v1h-1zM34 28h1v1h-1zM15 29h2v1h-2zM15 30h2v1h-2zM33 30h1v1h-1zM17 31h1v1h-1zM32 31h1v1h-1zM18 32h1v1h-1zM31 32h1v1h-1zM19 33h1v1h-1zM30 33h1v1h-1zM20 34h2v1h-2zM28 34h2v1h-2zM22 35h6v1h-6zM24 36h1v1h-1z"/>
<path fill="#F2FA3C" d="M22 16h7v1h-7zM21 17h1v1h-1zM29 17h1v1h-1zM19 18h1v1h-1zM30 18h1v1h-1zM18 19h1v1h-1zM30 19h1v1h-1zM17 20h1v1h-1zM31 20h2v1h-2zM17 21h1v1h-1zM31 21h2v1h-2zM16 22h1v1h-1zM32 22h1v1h-1zM16 23h1v1h-1zM32 23h2v1h-2zM16 24h1v1h-1zM33 24h1v1h-1zM16 25h1v1h-1zM16 26h1v1h-1zM16 27h1v1h-1zM33 27h1v1h-1zM16 28h1v1h-1zM33 28h1v1h-1zM17 29h1v1h-1zM32 29h2v1h-2zM17 30h1v1h-1zM31 30h2v1h-2zM18 31h1v1h-1zM30 31h2v1h-2zM19 32h1v1h-1zM29 32h2v1h-2zM20 33h2v1h-2zM28 33h2v1h-2zM22 34h6v1h-6z"/>
<path fill="#EED43C" d="M22 17h7v1h-7zM20 18h2v1h-2zM28 18h2v1h-2zM19 19h1v1h-1zM29 19h1v1h-1zM18 20h1v1h-1zM30 20h1v1h-1zM30 21h1v1h-1zM17 22h1v1h-1zM31 22h1v1h-1zM17 23h1v1h-1zM17 24h1v1h-1zM32 24h1v1h-1zM17 25h1v1h-1zM33 25h1v1h-1zM33 26h1v1h-1zM17 27h1v1h-1zM17 28h1v1h-1zM32 28h1v1h-1zM31 29h1v1h-1zM18 30h1v1h-1zM30 30h1v1h-1zM19 31h1v1h-1zM20 32h1v1h-1zM28 32h1v1h-1zM22 33h4v1h-4zM27 33h1v1h-1z"/>
<path fill="#ECA830" d="M22 18h6v1h-6zM20 19h1v1h-1zM28 19h1v1h-1zM19 20h1v1h-1zM28 20h2v1h-2zM18 21h1v1h-1zM29 21h1v1h-1zM18 22h1v1h-1zM30 22h1v1h-1zM30 23h2v1h-2zM31 24h1v1h-1zM31 25h2v1h-2zM17 26h2v1h-2zM32 26h1v1h-1zM32 27h1v1h-1zM18 28h1v1h-1zM30 28h2v1h-2zM18 29h1v1h-1zM30 29h1v1h-1zM19 30h1v1h-1zM29 30h1v1h-1zM20 31h1v1h-1zM29 31h1v1h-1zM21 32h2v1h-2zM27 32h1v1h-1zM26 33h1v1h-1z"/>
<path fill="#EE8428" d="M21 19h7v1h-7zM20 20h2v1h-2zM27 20h1v1h-1zM19 21h1v1h-1zM28 21h1v1h-1zM19 22h1v1h-1zM29 22h1v1h-1zM18 23h1v1h-1zM18 24h1v1h-1zM30 24h1v1h-1zM18 25h1v1h-1zM30 25h1v1h-1zM31 26h1v1h-1zM18 27h1v1h-1zM31 27h1v1h-1zM19 29h1v1h-1zM29 29h1v1h-1zM20 30h1v1h-1zM28 30h1v1h-1zM21 31h3v1h-3zM27 31h2v1h-2zM23 32h4v1h-4z"/>
<path fill="#F86018" d="M22 20h5v1h-5zM20 21h2v1h-2zM27 21h1v1h-1zM20 22h1v1h-1zM28 22h1v1h-1zM19 23h1v1h-1zM29 23h1v1h-1zM19 24h1v1h-1zM29 24h1v1h-1zM19 25h1v1h-1zM19 26h1v1h-1zM30 26h1v1h-1zM19 27h1v1h-1zM29 27h2v1h-2zM19 28h2v1h-2zM28 28h2v1h-2zM20 29h1v1h-1zM28 29h1v1h-1zM21 30h2v1h-2zM27 30h1v1h-1zM24 31h3v1h-3z"/>
<path fill="#FF3412" d="M22 21h5v1h-5zM21 22h1v1h-1zM27 22h1v1h-1zM20 23h1v1h-1zM28 23h1v1h-1zM20 24h1v1h-1zM28 24h1v1h-1zM20 25h1v1h-1zM28 25h2v1h-2zM29 26h1v1h-1zM20 27h1v1h-1zM28 27h1v1h-1zM21 28h2v1h-2zM21 29h3v1h-3zM26 29h2v1h-2zM23 30h4v1h-4z"/>
<path fill="#FF1E0C" d="M22 22h2v1h-2zM25 22h2v1h-2zM21 23h1v1h-1zM27 23h1v1h-1zM21 24h1v1h-1zM27 24h1v1h-1zM20 26h2v1h-2zM28 26h1v1h-1zM21 27h1v1h-1zM27 27h1v1h-1zM23 28h1v1h-1zM26 28h2v1h-2zM24 29h2v1h-2z"/>
<path fill="#D62016" d="M24 22h1v1h-1zM22 23h1v1h-1zM22 24h1v1h-1zM21 25h1v1h-1zM27 25h1v1h-1zM27 26h1v1h-1zM22 27h1v1h-1zM26 27h1v1h-1zM24 28h2v1h-2z"/>
<path fill="#B01A14" d="M23 23h1v1h-1zM26 23h1v1h-1z"/>
<path fill="#8A1410" d="M24 23h2v1h-2zM23 24h4v1h-4zM22 25h5v1h-5zM22 26h5v1h-5zM23 27h3v1h-3z"/>
</svg></g>
<path d="M27.5 351.4H314" stroke="#fff" stroke-width="3.4" stroke-linecap="round" stroke-dasharray="9 10.3" fill="none"/>
<path d="M398.4 351H684" stroke="#fff" stroke-width="3.4" stroke-linecap="round" stroke-dasharray="9 10.3" fill="none"/>
<text x="34.5" y="227.5" font-size="20" fill="#fff">Si</text>
<text x="404.5" y="227.4" font-size="20" fill="#fff">Ge</text>
<rect x="245" y="474" width="58.7" height="8" fill="#fff"/>
<rect x="614.3" y="473.8" width="58.7" height="7.8" fill="#fff"/>
<text x="276.2" y="467" font-size="18" fill="#fff" text-anchor="middle">5µm</text>
<text x="644.6" y="467" font-size="18" fill="#fff" text-anchor="middle">5µm</text>
<text x="3.5" y="215" font-size="21" font-weight="bold">c</text>
<text x="373.5" y="214.9" font-size="21" font-weight="bold">d</text>
<rect x="324.6" y="201.10" width="19.6" height="12.46" fill="#8A1410"/>
<rect x="324.6" y="213.26" width="19.6" height="12.46" fill="#B01A14"/>
<rect x="324.6" y="225.42" width="19.6" height="12.46" fill="#D62016"/>
<rect x="324.6" y="237.59" width="19.6" height="12.46" fill="#FF1E0C"/>
<rect x="324.6" y="249.75" width="19.6" height="12.46" fill="#FF3412"/>
<rect x="324.6" y="261.91" width="19.6" height="12.46" fill="#F86018"/>
<rect x="324.6" y="274.07" width="19.6" height="12.46" fill="#EE8428"/>
<rect x="324.6" y="286.24" width="19.6" height="12.46" fill="#ECA830"/>
<rect x="324.6" y="298.40" width="19.6" height="12.46" fill="#EED43C"/>
<rect x="324.6" y="310.56" width="19.6" height="12.46" fill="#F2FA3C"/>
<rect x="324.6" y="322.73" width="19.6" height="12.46" fill="#D0FA44"/>
<rect x="324.6" y="334.89" width="19.6" height="12.46" fill="#B0FA60"/>
<rect x="324.6" y="347.05" width="19.6" height="12.46" fill="#9AFA84"/>
<rect x="324.6" y="359.21" width="19.6" height="12.46" fill="#80F8B4"/>
<rect x="324.6" y="371.38" width="19.6" height="12.46" fill="#78F8DC"/>
<rect x="324.6" y="383.54" width="19.6" height="12.46" fill="#78FAFA"/>
<rect x="324.6" y="395.70" width="19.6" height="12.46" fill="#6AE8FA"/>
<rect x="324.6" y="407.86" width="19.6" height="12.46" fill="#58B4F8"/>
<rect x="324.6" y="420.02" width="19.6" height="12.46" fill="#4A88F4"/>
<rect x="324.6" y="432.19" width="19.6" height="12.46" fill="#3A54F8"/>
<rect x="324.6" y="444.35" width="19.6" height="12.46" fill="#2010F8"/>
<rect x="324.6" y="456.51" width="19.6" height="12.46" fill="#1400F4"/>
<rect x="324.6" y="468.67" width="19.6" height="12.46" fill="#2000E8"/>
<rect x="324.6" y="480.84" width="19.6" height="12.46" fill="#1A00D6"/>
<rect x="324.6" y="201.1" width="19.6" height="291.9" fill="none" stroke="#333" stroke-width="1.2"/>
<path d="M344.2 249.8h-4M344.2 298.4h-4M344.2 347.0h-4M344.2 395.7h-4M344.2 444.4h-4" stroke="#333" stroke-width="1.2"/>
<clipPath id="c104"><rect x="340" y="190.8" width="40" height="20"/></clipPath>
<text x="348.5" y="205.9" font-size="17" clip-path="url(#c104)">10<tspan font-size="8.6" dy="-9.8">4</tspan></text>
<text x="348.5" y="303.2" font-size="17">10<tspan font-size="8.6" dy="-9.8">3</tspan></text>
<text x="348.5" y="400.5" font-size="17">10<tspan font-size="8.6" dy="-9.8">2</tspan></text>
<text x="348.5" y="497.8" font-size="17">10<tspan font-size="8.6" dy="-9.8">1</tspan></text>
<clipPath id="clipe"><rect x="22.5" y="515" width="291.7" height="97.29999999999995"/></clipPath>
<g clip-path="url(#clipe)">
<path d="M21.3 604.9 L22.7 605.8 L24.1 605.6 L25.5 604.4 L26.9 604.5 L28.3 604.3 L29.7 605.0 L31.1 604.5 L32.5 605.0 L33.9 603.1 L35.3 605.4 L36.7 604.2 L38.1 604.6 L39.5 603.9 L40.9 603.6 L42.3 604.1 L43.7 604.2 L45.1 603.4 L46.5 603.2 L47.9 603.6 L49.3 602.4 L50.7 601.7 L52.1 602.8 L53.5 601.8 L54.9 600.7 L56.3 601.2 L57.7 601.1 L59.1 600.3 L60.5 599.7 L61.9 600.4 L63.3 600.6 L64.7 599.4 L66.1 598.6 L67.5 598.9 L68.9 598.6 L70.3 597.3 L71.7 597.3 L73.1 597.1 L74.5 595.5 L75.9 594.4 L77.3 594.5 L78.7 593.6 L80.1 593.4 L81.5 590.9 L82.9 590.4 L84.3 589.3 L85.7 587.7 L87.1 588.0 L88.5 587.2 L89.9 585.1 L91.3 585.5 L92.7 583.8 L94.1 582.4 L95.5 580.9 L96.9 580.0 L98.3 576.9 L99.7 576.9 L101.1 575.3 L102.5 572.1 L103.9 572.0 L105.3 570.0 L106.7 569.1 L108.1 566.5 L109.5 565.1 L110.9 563.6 L112.3 561.0 L113.7 560.2 L115.1 557.9 L116.5 556.5 L117.9 553.9 L119.3 553.2 L120.7 551.0 L122.1 548.5 L123.5 547.2 L124.9 545.8 L126.3 544.3 L127.7 540.1 L129.1 540.1 L130.5 538.0 L131.9 535.8 L133.3 533.5 L134.7 533.4 L136.1 530.0 L137.5 529.7 L138.9 528.7 L140.3 525.2 L141.7 524.7 L142.3 513.0" fill="none" stroke="#8a8a8a" stroke-width="7" stroke-linejoin="round"/>
<path d="M182.4 513.0 L182.7 523.4 L184.1 525.9 L185.5 528.2 L186.9 530.1 L188.3 529.0 L189.7 531.4 L191.1 534.0 L192.5 536.3 L193.9 537.2 L195.3 538.2 L196.7 540.7 L198.1 542.3 L199.5 544.0 L200.9 545.5 L202.3 548.2 L203.7 550.0 L205.1 551.6 L206.5 553.3 L207.9 554.4 L209.3 556.9 L210.7 559.9 L212.1 560.7 L213.5 561.6 L214.9 565.3 L216.3 566.5 L217.7 569.3 L219.1 569.5 L220.5 570.8 L221.9 571.7 L223.3 575.2 L224.7 577.6 L226.1 576.7 L227.5 578.3 L228.9 580.5 L230.3 580.9 L231.7 582.5 L233.1 583.7 L234.5 585.3 L235.9 587.1 L237.3 587.5 L238.7 589.1 L240.1 589.2 L241.5 590.7 L242.9 589.9 L244.3 591.3 L245.7 593.7 L247.1 593.5 L248.5 595.1 L249.9 595.8 L251.3 597.0 L252.7 597.3 L254.1 598.0 L255.5 597.8 L256.9 597.9 L258.3 598.4 L259.7 599.0 L261.1 599.0 L262.5 599.9 L263.9 600.6 L265.3 601.2 L266.7 601.1 L268.1 600.3 L269.5 601.9 L270.9 602.3 L272.3 603.2 L273.7 603.1 L275.1 602.4 L276.5 602.6 L277.9 604.7 L279.3 604.0 L280.7 604.9 L282.1 605.2 L283.5 603.3 L284.9 604.2 L286.3 604.4 L287.7 604.6 L289.1 604.6 L290.5 604.5 L291.9 604.5 L293.3 603.4 L294.7 604.4 L296.1 604.1 L297.5 604.8 L298.9 604.4 L300.3 605.2 L301.7 605.4 L303.1 605.0 L304.5 605.1 L305.9 604.9 L307.3 604.6 L308.7 604.8 L310.1 604.6 L311.5 605.2 L312.9 605.0 L314.3 605.4" fill="none" stroke="#8a8a8a" stroke-width="7" stroke-linejoin="round"/>
<path d="M21.3 604.8 L22.5 604.8 L23.6 604.8 L24.8 604.7 L26.0 604.7 L27.1 604.7 L28.3 604.6 L29.5 604.6 L30.6 604.5 L31.8 604.5 L33.0 604.4 L34.1 604.4 L35.3 604.3 L36.5 604.2 L37.6 604.2 L38.8 604.1 L40.0 604.0 L41.1 603.9 L42.3 603.8 L43.5 603.7 L44.6 603.5 L45.8 603.4 L47.0 603.3 L48.1 603.1 L49.3 603.0 L50.5 602.8 L51.6 602.6 L52.8 602.4 L54.0 602.2 L55.1 602.0 L56.3 601.8 L57.5 601.5 L58.6 601.2 L59.8 601.0 L61.0 600.7 L62.1 600.3 L63.3 600.0 L64.5 599.7 L65.6 599.3 L66.8 598.9 L68.0 598.5 L69.1 598.0 L70.3 597.6 L71.5 597.1 L72.6 596.6 L73.8 596.0 L75.0 595.5 L76.1 594.9 L77.3 594.2 L78.5 593.6 L79.6 592.9 L80.8 592.2 L82.0 591.5 L83.1 590.7 L84.3 589.9 L85.5 589.1 L86.6 588.2 L87.8 587.3 L89.0 586.4 L90.1 585.5 L91.3 584.5 L92.5 583.5 L93.6 582.4 L94.8 581.3 L96.0 580.2 L97.1 579.1 L98.3 577.9 L99.5 576.7 L100.6 575.4 L101.8 574.2 L103.0 572.9 L104.1 571.5 L105.3 570.2 L106.5 568.8 L107.6 567.4 L108.8 566.0 L110.0 564.5 L111.1 563.1 L112.3 561.6 L113.5 560.1 L114.6 558.6 L115.8 557.0 L117.0 555.5 L118.1 554.0 L119.3 552.4 L120.5 550.8 L121.6 549.3 L122.8 547.7 L124.0 546.2 L125.1 544.6 L126.3 543.1 L127.5 541.6 L128.6 540.0 L129.8 538.5 L131.0 537.1 L132.1 535.6 L133.3 534.2 L134.5 532.8 L135.6 531.4 L136.8 530.1 L138.0 528.8 L139.1 527.5 L140.3 526.3" fill="none" stroke="#FF2010" stroke-width="3.2"/>
<path d="M184.4 526.1 L185.6 527.3 L186.7 528.5 L187.9 529.8 L189.1 531.1 L190.2 532.5 L191.4 533.9 L192.6 535.3 L193.7 536.8 L194.9 538.2 L196.1 539.7 L197.2 541.2 L198.4 542.8 L199.6 544.3 L200.7 545.9 L201.9 547.4 L203.1 549.0 L204.2 550.5 L205.4 552.1 L206.6 553.6 L207.7 555.2 L208.9 556.7 L210.1 558.3 L211.2 559.8 L212.4 561.3 L213.6 562.8 L214.7 564.2 L215.9 565.7 L217.1 567.1 L218.2 568.5 L219.4 569.9 L220.6 571.3 L221.7 572.6 L222.9 573.9 L224.1 575.2 L225.2 576.4 L226.4 577.6 L227.6 578.8 L228.7 580.0 L229.9 581.1 L231.1 582.2 L232.2 583.3 L233.4 584.3 L234.6 585.3 L235.7 586.2 L236.9 587.2 L238.1 588.1 L239.2 588.9 L240.4 589.8 L241.6 590.6 L242.7 591.3 L243.9 592.1 L245.1 592.8 L246.2 593.5 L247.4 594.1 L248.6 594.7 L249.7 595.3 L250.9 595.9 L252.1 596.5 L253.2 597.0 L254.4 597.5 L255.6 597.9 L256.7 598.4 L257.9 598.8 L259.1 599.2 L260.2 599.6 L261.4 599.9 L262.6 600.3 L263.7 600.6 L264.9 600.9 L266.1 601.2 L267.2 601.5 L268.4 601.7 L269.6 601.9 L270.7 602.2 L271.9 602.4 L273.1 602.6 L274.2 602.8 L275.4 602.9 L276.6 603.1 L277.7 603.2 L278.9 603.4 L280.1 603.5 L281.2 603.6 L282.4 603.8 L283.6 603.9 L284.7 604.0 L285.9 604.1 L287.1 604.1 L288.2 604.2 L289.4 604.3 L290.6 604.4 L291.7 604.4 L292.9 604.5 L294.1 604.5 L295.2 604.6 L296.4 604.6 L297.6 604.7 L298.7 604.7 L299.9 604.7 L301.1 604.8 L302.2 604.8 L303.4 604.8 L304.6 604.9 L305.7 604.9 L306.9 604.9 L308.1 604.9 L309.2 604.9 L310.4 605.0 L311.6 605.0 L312.7 605.0 L313.9 605.0 L315.1 605.0" fill="none" stroke="#FF2010" stroke-width="3.2"/>
</g>
<rect x="22.5" y="515" width="291.7" height="91.29999999999995" fill="none" stroke="#262626" stroke-width="1.3"/>
<path d="M51.6 606.3v-3M51.6 515v3M110.0 606.3v-3M110.0 515v3M168.3 606.3v-3M168.3 515v3M226.6 606.3v-3M226.6 515v3M285.0 606.3v-3M285.0 515v3M22.5 537.8h3M314.2 537.8h-3M22.5 560.7h3M314.2 560.7h-3M22.5 583.5h3M314.2 583.5h-3" stroke="#262626" stroke-width="1.2"/>
<text x="51.6" y="626.7" font-size="20" text-anchor="middle">-10</text>
<text x="110.0" y="626.7" font-size="20" text-anchor="middle">-5</text>
<text x="168.3" y="626.7" font-size="20" text-anchor="middle">0</text>
<text x="226.6" y="626.7" font-size="20" text-anchor="middle">5</text>
<text x="285.0" y="626.7" font-size="20" text-anchor="middle">10</text>
<text x="168.3" y="645.7" font-size="20" text-anchor="middle">Position (µm)</text>
<text transform="translate(14.4,560.1) rotate(-90)" font-size="20" text-anchor="middle">CL int. (a.u.)</text>
<text x="33.5" y="539" font-size="21" font-weight="bold">e</text>
<clipPath id="clipf"><rect x="392.7" y="515" width="290.00000000000006" height="97.20000000000005"/></clipPath>
<g clip-path="url(#clipf)">
<path d="M391.4 605.8 L392.8 602.3 L394.2 605.1 L395.6 604.5 L397.0 605.3 L398.4 604.6 L399.8 605.6 L401.2 604.3 L402.6 603.9 L404.0 604.6 L405.4 604.4 L406.8 603.8 L408.2 603.8 L409.6 604.5 L411.0 604.4 L412.4 603.5 L413.8 603.5 L415.2 602.4 L416.6 604.8 L418.0 603.4 L419.4 604.4 L420.8 603.6 L422.2 604.6 L423.6 604.2 L425.0 603.2 L426.4 603.9 L427.8 602.1 L429.2 603.5 L430.6 601.4 L432.0 602.6 L433.4 602.9 L434.8 602.2 L436.2 601.6 L437.6 601.1 L439.0 601.2 L440.4 602.0 L441.8 601.6 L443.2 600.6 L444.6 599.6 L446.0 600.7 L447.4 598.9 L448.8 599.3 L450.2 598.8 L451.5 599.5 L452.9 598.8 L454.3 598.5 L455.7 598.0 L457.1 596.9 L458.5 597.3 L459.9 597.4 L461.3 595.9 L462.7 595.8 L464.1 594.7 L465.5 594.9 L466.9 594.0 L468.3 593.5 L469.7 592.4 L471.1 592.5 L472.5 590.3 L473.9 589.5 L475.3 588.4 L476.7 588.2 L478.1 586.3 L479.5 585.2 L480.9 585.0 L482.3 584.1 L483.7 582.4 L485.1 578.7 L486.5 578.5 L487.9 576.8 L489.3 575.1 L490.7 573.9 L492.1 573.6 L493.5 570.2 L494.9 567.8 L496.3 566.6 L497.7 563.8 L499.1 561.4 L500.5 558.2 L501.9 555.9 L503.3 553.3 L504.7 548.5 L506.1 545.4 L507.5 543.8 L508.9 539.9 L510.3 535.0 L511.7 530.5 L513.1 526.6 L514.5 521.2 L516.0 513.0" fill="none" stroke="#8a8a8a" stroke-width="7" stroke-linejoin="round"/>
<path d="M555.3 513.0 L555.6 523.4 L557.0 529.4 L558.4 532.7 L559.8 537.5 L561.2 540.4 L562.6 544.5 L564.0 548.6 L565.4 550.0 L566.8 553.7 L568.1 556.7 L569.5 559.8 L570.9 563.2 L572.3 565.0 L573.7 565.8 L575.1 568.8 L576.5 570.4 L577.9 572.3 L579.3 576.2 L580.7 575.8 L582.1 578.3 L583.5 579.1 L584.9 581.7 L586.3 582.7 L587.7 583.8 L589.1 584.9 L590.5 586.8 L591.9 586.5 L593.3 587.6 L594.7 588.3 L596.1 590.9 L597.5 590.6 L598.9 590.9 L600.3 592.1 L601.7 594.9 L603.1 593.7 L604.5 595.0 L605.9 595.3 L607.3 595.6 L608.7 595.6 L610.1 596.4 L611.5 596.8 L612.9 596.0 L614.3 599.8 L615.7 599.0 L617.1 598.8 L618.5 598.9 L619.9 598.9 L621.3 600.4 L622.7 599.9 L624.1 600.7 L625.5 599.6 L626.9 601.1 L628.3 602.5 L629.7 601.1 L631.1 602.1 L632.5 601.7 L633.9 602.7 L635.3 602.8 L636.7 602.3 L638.1 602.0 L639.5 602.7 L640.9 602.7 L642.3 602.4 L643.7 603.2 L645.1 603.3 L646.5 602.5 L647.9 603.2 L649.3 605.4 L650.7 604.0 L652.1 603.6 L653.5 605.4 L654.9 603.4 L656.3 602.0 L657.7 602.5 L659.1 602.8 L660.5 604.2 L661.9 604.7 L663.3 602.6 L664.7 604.9 L666.1 603.3 L667.5 604.4 L668.9 604.6 L670.3 604.6 L671.7 604.4 L673.1 604.5 L674.5 603.6 L675.9 604.7 L677.3 605.2 L678.7 605.2 L680.1 606.4 L681.5 605.3 L682.9 605.1 L684.3 605.8" fill="none" stroke="#8a8a8a" stroke-width="7" stroke-linejoin="round"/>
<path d="M391.4 604.5 L392.5 604.5 L393.7 604.5 L394.9 604.4 L396.0 604.4 L397.2 604.4 L398.4 604.3 L399.5 604.3 L400.7 604.3 L401.9 604.2 L403.0 604.2 L404.2 604.2 L405.4 604.1 L406.5 604.1 L407.7 604.0 L408.9 604.0 L410.0 603.9 L411.2 603.9 L412.4 603.8 L413.5 603.8 L414.7 603.7 L415.9 603.6 L417.0 603.6 L418.2 603.5 L419.4 603.4 L420.5 603.3 L421.7 603.3 L422.9 603.2 L424.0 603.1 L425.2 603.0 L426.4 602.9 L427.5 602.8 L428.7 602.7 L429.9 602.6 L431.0 602.4 L432.2 602.3 L433.4 602.2 L434.5 602.0 L435.7 601.9 L436.9 601.7 L438.0 601.6 L439.2 601.4 L440.4 601.2 L441.5 601.0 L442.7 600.8 L443.9 600.6 L445.0 600.4 L446.2 600.2 L447.4 599.9 L448.5 599.7 L449.7 599.4 L450.8 599.1 L452.0 598.9 L453.2 598.5 L454.3 598.2 L455.5 597.9 L456.7 597.5 L457.8 597.2 L459.0 596.8 L460.2 596.4 L461.3 595.9 L462.5 595.5 L463.7 595.0 L464.8 594.5 L466.0 594.0 L467.2 593.4 L468.3 592.9 L469.5 592.3 L470.7 591.6 L471.8 591.0 L473.0 590.3 L474.2 589.5 L475.3 588.8 L476.5 588.0 L477.7 587.1 L478.8 586.2 L480.0 585.3 L481.2 584.3 L482.3 583.3 L483.5 582.2 L484.7 581.1 L485.8 579.9 L487.0 578.6 L488.2 577.3 L489.3 575.9 L490.5 574.5 L491.7 573.0 L492.8 571.4 L494.0 569.7 L495.2 568.0 L496.3 566.1 L497.5 564.2 L498.7 562.1 L499.8 560.0 L501.0 557.8 L502.2 555.4 L503.3 553.0 L504.5 550.4 L505.7 547.7 L506.8 544.8 L508.0 541.8 L509.1 538.7 L510.3 535.4 L511.5 531.9 L512.6 528.3 L513.8 524.4 L515.0 520.4" fill="none" stroke="#FF2010" stroke-width="3.2"/>
<path d="M554.6 520.4 L555.8 524.4 L557.0 528.3 L558.1 531.9 L559.3 535.4 L560.5 538.7 L561.6 541.8 L562.8 544.8 L564.0 547.7 L565.1 550.4 L566.3 553.0 L567.4 555.4 L568.6 557.8 L569.8 560.0 L570.9 562.1 L572.1 564.2 L573.3 566.1 L574.4 568.0 L575.6 569.7 L576.8 571.4 L577.9 573.0 L579.1 574.5 L580.3 575.9 L581.4 577.3 L582.6 578.6 L583.8 579.9 L584.9 581.1 L586.1 582.2 L587.3 583.3 L588.4 584.3 L589.6 585.3 L590.8 586.2 L591.9 587.1 L593.1 588.0 L594.3 588.8 L595.4 589.5 L596.6 590.3 L597.8 591.0 L598.9 591.6 L600.1 592.3 L601.3 592.9 L602.4 593.4 L603.6 594.0 L604.8 594.5 L605.9 595.0 L607.1 595.5 L608.3 595.9 L609.4 596.4 L610.6 596.8 L611.8 597.2 L612.9 597.5 L614.1 597.9 L615.3 598.2 L616.4 598.5 L617.6 598.9 L618.8 599.1 L619.9 599.4 L621.1 599.7 L622.3 599.9 L623.4 600.2 L624.6 600.4 L625.7 600.6 L626.9 600.8 L628.1 601.0 L629.2 601.2 L630.4 601.4 L631.6 601.6 L632.7 601.7 L633.9 601.9 L635.1 602.0 L636.2 602.2 L637.4 602.3 L638.6 602.4 L639.7 602.6 L640.9 602.7 L642.1 602.8 L643.2 602.9 L644.4 603.0 L645.6 603.1 L646.7 603.2 L647.9 603.3 L649.1 603.3 L650.2 603.4 L651.4 603.5 L652.6 603.6 L653.7 603.6 L654.9 603.7 L656.1 603.8 L657.2 603.8 L658.4 603.9 L659.6 603.9 L660.7 604.0 L661.9 604.0 L663.1 604.1 L664.2 604.1 L665.4 604.2 L666.6 604.2 L667.7 604.2 L668.9 604.3 L670.1 604.3 L671.2 604.3 L672.4 604.4 L673.6 604.4 L674.7 604.4 L675.9 604.5 L677.1 604.5 L678.2 604.5 L679.4 604.5 L680.6 604.6 L681.7 604.6 L682.9 604.6 L684.0 604.6 L685.2 604.6" fill="none" stroke="#FF2010" stroke-width="3.2"/>
</g>
<rect x="392.7" y="515" width="290.00000000000006" height="91.20000000000005" fill="none" stroke="#262626" stroke-width="1.3"/>
<path d="M421.7 606.2v-3M421.7 515v3M480.0 606.2v-3M480.0 515v3M538.3 606.2v-3M538.3 515v3M596.6 606.2v-3M596.6 515v3M654.9 606.2v-3M654.9 515v3M392.7 537.8h3M682.7 537.8h-3M392.7 560.7h3M682.7 560.7h-3M392.7 583.5h3M682.7 583.5h-3" stroke="#262626" stroke-width="1.2"/>
<text x="421.7" y="626.7" font-size="20" text-anchor="middle">-10</text>
<text x="480.0" y="626.7" font-size="20" text-anchor="middle">-5</text>
<text x="538.3" y="626.7" font-size="20" text-anchor="middle">0</text>
<text x="596.6" y="626.7" font-size="20" text-anchor="middle">5</text>
<text x="654.9" y="626.7" font-size="20" text-anchor="middle">10</text>
<text x="538.3" y="645.7" font-size="20" text-anchor="middle">Position (µm)</text>
<text transform="translate(385.9,560.1) rotate(-90)" font-size="20" text-anchor="middle">CL int. (a.u.)</text>
<text x="402" y="539" font-size="21" font-weight="bold">f</text>

<path d="M208.5 533H225.6" stroke="#FF2010" stroke-width="3"/>
<text x="232" y="538.9" font-size="20">Gaus. fit</text>
<path d="M592.5 533.3H609.3" stroke="#FF2010" stroke-width="3"/>
<text x="615" y="539.3" font-size="20">exp. fit</text>

</svg>
</body></html>
